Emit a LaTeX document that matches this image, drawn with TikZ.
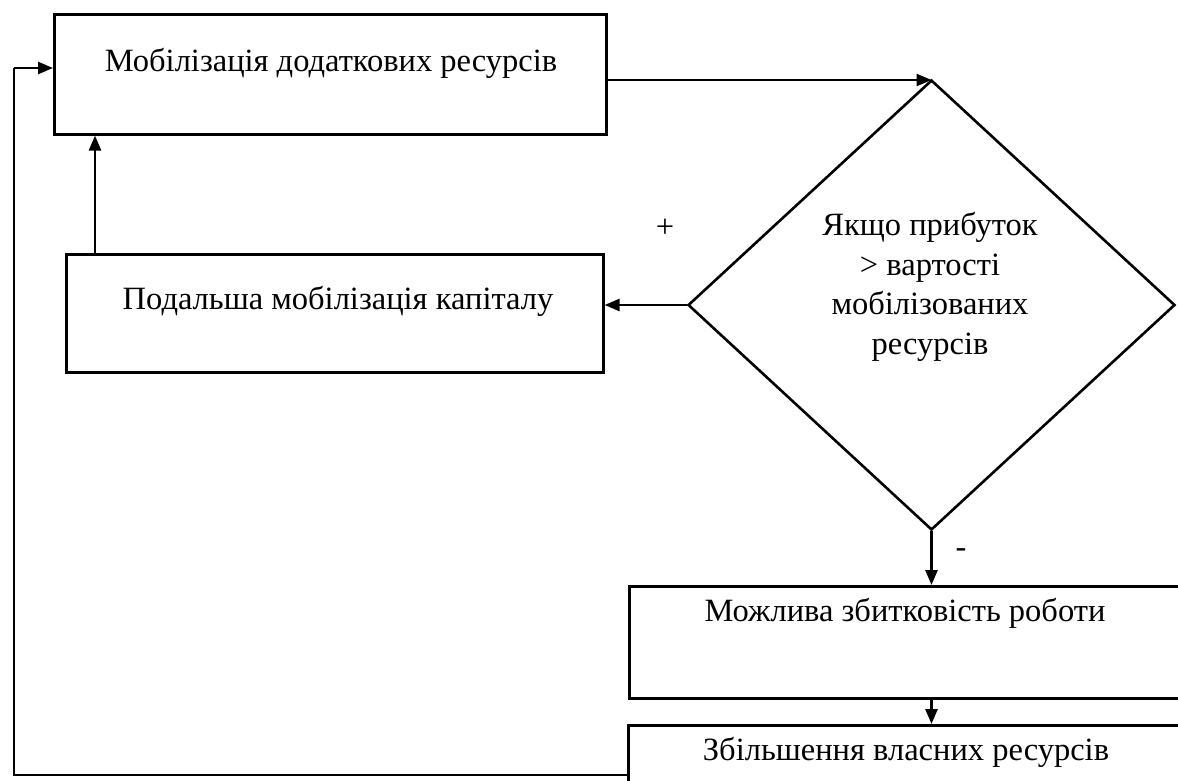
\documentclass[tikz,border=0pt]{standalone}
\usepackage{fontspec}
\setmainfont{Liberation Serif}
\usetikzlibrary{shapes.geometric,arrows.meta}
\begin{document}
\begin{tikzpicture}[x=1pt,y=-1pt,
  box/.style={draw,line width=2.6pt,inner sep=0pt,anchor=north west},
  lbl/.style={font=\fontsize{32.5}{39.5}\selectfont,inner sep=0pt,align=center},
  arr/.style={line width=2.6pt,-{Triangle[length=15pt,width=12pt]}},
  fb/.style={line width=1.4pt}]
\useasboundingbox (0,0) rectangle (1178,781);
\clip (0,0) rectangle (1178,781);
% boxes
\node[box,minimum width=552pt,minimum height=120pt] (box1) at (53,13) {};
\node[box,minimum width=537pt,minimum height=118pt] (box2) at (65,253) {};
\node[box,minimum width=554pt,minimum height=112pt] (box3) at (628,585) {};
\node[box,minimum width=555pt,minimum height=70pt] (box4) at (627,724) {};
\node[diamond,draw,line width=2.6pt,inner sep=0pt,minimum width=487pt,minimum height=450pt] (dia) at (931.5,305) {};
% texts
\node[lbl] (t1) at (331,63) {Мобілізація додаткових ресурсів};
\node[lbl] (t2) at (338,301) {Подальша мобілізація капіталу};
\node[lbl] (t3) at (905,613) {Можлива збитковість роботи};
\node[lbl] (t4) at (906,752) {Збільшення власних ресурсів};
\node[lbl] (td) at (930,287) {Якщо прибуток\\> вартості\\мобілізованих\\ресурсів};
\node[lbl] (plus) at (665,228) {+};
\node[lbl] (minus) at (961,553) {-};
% connectors
\coordinate (r1) at (0,80);
\coordinate (up) at (95,0);
\draw[arr] (box1.east |- r1) -- (dia.north |- r1);
\draw[arr] (dia.west) -- (box2.east |- dia.west);
\draw[arr] (box2.north -| up) -- (box1.south -| up);
\draw[arr] (dia.south) -- (dia.south |- box3.north);
\draw[arr] (dia.south |- box3.south) -- (dia.south |- box4.north);
\coordinate (c1) at (14,775);
\coordinate (c2) at (14,68);
\draw[fb] (c1 -| box4.west) -- (c1) -- (c2);
\draw[arr] (c2) -- (c2 -| box1.west);
\end{tikzpicture}
\end{document}
